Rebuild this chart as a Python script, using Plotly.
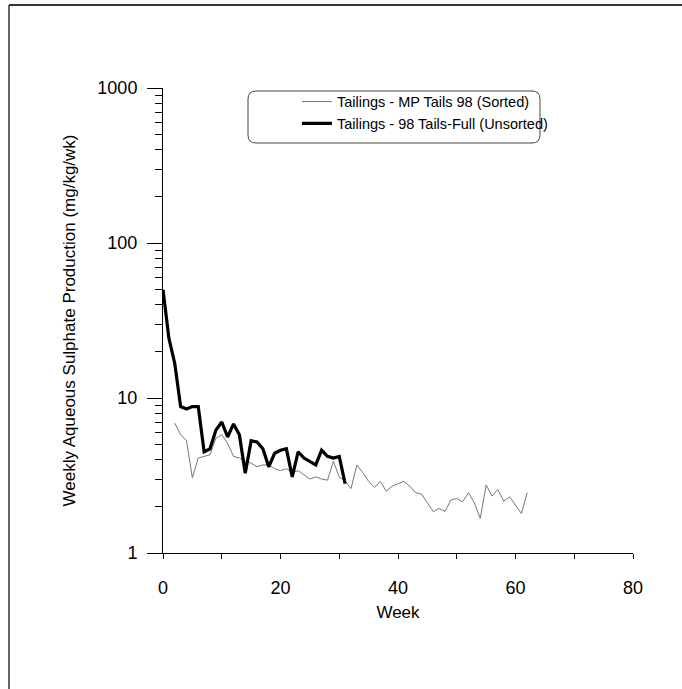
import plotly.graph_objects as go

# ---- data ----
weeks_sorted = list(range(2, 63))
sulphate_sorted = [6.9, 5.8, 5.3, 3.05, 4.1, 4.2, 4.3, 5.5, 5.8, 5.1,
                   4.2, 4.1, 3.9, 3.8, 3.6, 3.7, 3.7, 3.5, 3.4, 3.5,
                   3.3, 3.4, 3.2, 3.0, 3.1, 3.0, 2.95, 3.9, 3.1, 2.9,
                   2.6, 3.7, 3.3, 2.9, 2.65, 2.9, 2.5, 2.7, 2.8, 2.9,
                   2.7, 2.45, 2.4, 2.1, 1.85, 1.94, 1.85, 2.2, 2.25, 2.14,
                   2.45, 2.1, 1.67, 2.75, 2.33, 2.57, 2.16, 2.3, 2.04, 1.8,
                   2.45]
weeks_unsorted = list(range(0, 32))
sulphate_unsorted = [50, 24.3, 16.7, 8.8, 8.5, 8.8, 8.8, 4.5, 4.7, 6.2,
                     7.0, 5.6, 6.8, 5.8, 3.27, 5.3, 5.2, 4.7, 3.6, 4.4,
                     4.6, 4.7, 3.1, 4.5, 4.1, 3.9, 3.7, 4.6, 4.2, 4.1,
                     4.2, 2.8]

series_names = ["Tailings - MP Tails 98 (Sorted)", "Tailings - 98 Tails-Full (Unsorted)"]
x_tick_vals = [0, 20, 40, 60, 80]
y_tick_vals = [1, 10, 100, 1000]

FONT = "Liberation Sans, Arial, sans-serif"

fig = go.Figure()
fig.add_trace(go.Scatter(x=weeks_sorted, y=sulphate_sorted, mode="lines",
                         name=series_names[0],
                         line=dict(color="#777777", width=1)))
fig.add_trace(go.Scatter(x=weeks_unsorted, y=sulphate_unsorted, mode="lines",
                         name=series_names[1],
                         line=dict(color="black", width=3.2)))

y_minor = [m * 10 ** d for d in range(0, 3) for m in range(2, 10)]

W, H = 682, 689
l, r, t, b = 163, 49, 88, 136

fig.update_layout(
    width=W, height=H,
    margin=dict(l=l, r=r, t=t, b=b),
    paper_bgcolor="white", plot_bgcolor="white",
    font=dict(family=FONT, size=18, color="black"),
    showlegend=True,
    legend=dict(x=0.285, y=1.005, xanchor="left", yanchor="top",
                bgcolor="rgba(0,0,0,0)", borderwidth=0,
                font=dict(size=14.5, family=FONT), tracegroupgap=0),
    xaxis=dict(range=[0, 80], tickvals=x_tick_vals, showgrid=False, zeroline=False,
               showline=True, linecolor="black", linewidth=1,
               ticks="outside", ticklen=5, tickcolor="black",
               ticklabelstandoff=13,
               minor=dict(tickvals=[10, 30, 50, 70], ticks="outside", ticklen=5,
                          tickcolor="black", showgrid=False),
               title=dict(text="Week", font=dict(size=17), standoff=9)),
    yaxis=dict(type="log", range=[0, 3], tickvals=y_tick_vals,
               ticktext=[str(v) for v in y_tick_vals],
               showgrid=False, zeroline=False,
               showline=True, linecolor="black", linewidth=1,
               ticks="outside", ticklen=15, tickcolor="black",
               ticklabelstandoff=6,
               minor=dict(tickvals=y_minor, ticks="outside", ticklen=7,
                          tickcolor="black", showgrid=False),
               title=dict(text="Weekly Aqueous Sulphate Production (mg/kg/wk)",
                          font=dict(size=17), standoff=17)),
)

# legend frame with rounded corners (paper pixel geometry converted to paper units)
pw, ph = W - l - r, H - t - b
def px(x):
    return (x - l) / pw
def py(y):
    return 1 - (y - t) / ph
x0, x1, y0, y1, rad = 248, 540, 91, 143, 8
path = (f"M {px(x0+rad)},{py(y0)} L {px(x1-rad)},{py(y0)} "
        f"Q {px(x1)},{py(y0)} {px(x1)},{py(y0+rad)} L {px(x1)},{py(y1-rad)} "
        f"Q {px(x1)},{py(y1)} {px(x1-rad)},{py(y1)} L {px(x0+rad)},{py(y1)} "
        f"Q {px(x0)},{py(y1)} {px(x0)},{py(y1-rad)} L {px(x0)},{py(y0+rad)} "
        f"Q {px(x0)},{py(y0)} {px(x0+rad)},{py(y0)} Z")
fig.add_shape(type="path", path=path, xref="paper", yref="paper",
              line=dict(color="#444", width=1))
# page border (left and top edges of the scanned frame)
fig.add_shape(type="line", xref="paper", yref="paper",
              x0=px(9), x1=px(9), y0=py(5), y1=py(689), line=dict(color="#333", width=1.5))
fig.add_shape(type="line", xref="paper", yref="paper",
              x0=px(9), x1=px(682), y0=py(5), y1=py(5), line=dict(color="#333", width=2))

fig.write_html("out.html", config={"displayModeBar": False},
               post_script="document.body.style.margin='0';document.body.style.padding='0';")
